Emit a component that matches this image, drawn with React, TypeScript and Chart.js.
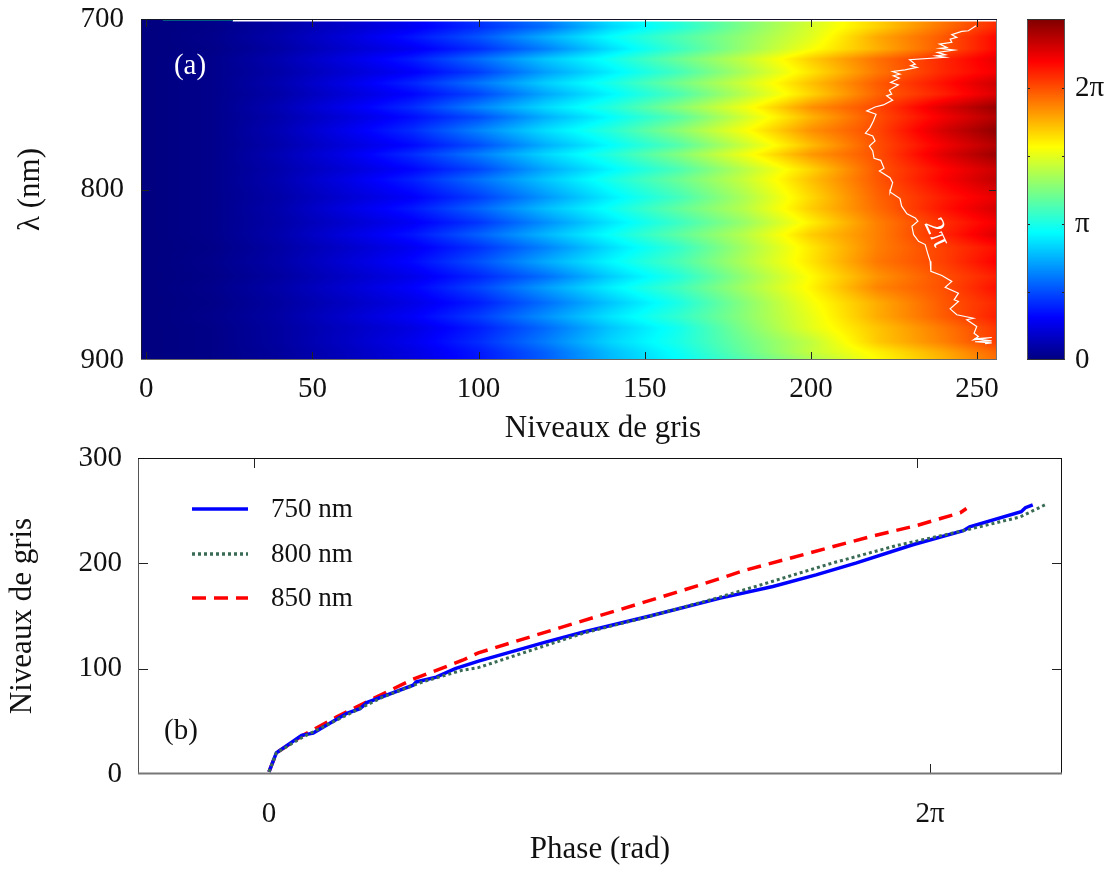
import React, { useEffect, useRef } from "react";
import { Chart, registerables } from "chart.js";

Chart.register(...registerables);

const FONT = '"Liberation Serif"';
const PI = "\u03c0";

// ---------- panel (a) ----------
const greyLevels = [0, 20, 40, 60, 80, 100, 120, 140, 160, 180, 200, 220, 240, 256];
const wavelengths = [
  700, 704.7, 710.6, 717.6, 723.5, 731.2, 737.6, 744.1, 751.8, 757.6, 765.3, 774.1, 779.4, 788.2, 794.1,
  804.7, 811.2, 819.4, 826.5, 834.1, 842.4, 851.2, 857.6, 866.5, 874.7, 881.2, 889.4, 895.3, 900,
];
// phase in units of pi: one row per wavelength, one value per grey level
const phaseRows = [
  [0, 0.03, 0.1, 0.2, 0.3, 0.44, 0.62, 0.88, 1.05, 1.25, 1.45, 1.68, 1.9, 2.08],
  [0, 0.02, 0.09, 0.18, 0.28, 0.42, 0.58, 0.84, 1.02, 1.25, 1.47, 1.68, 1.92, 2.1],
  [0, 0.03, 0.11, 0.22, 0.36, 0.52, 0.74, 0.95, 1.13, 1.3, 1.49, 1.78, 1.98, 2.18],
  [0, 0.02, 0.09, 0.19, 0.28, 0.42, 0.62, 0.86, 1.08, 1.31, 1.55, 1.76, 1.98, 2.18],
  [0, 0.03, 0.12, 0.24, 0.38, 0.58, 0.8, 0.98, 1.2, 1.42, 1.69, 1.92, 2.1, 2.25],
  [0, 0.03, 0.1, 0.2, 0.3, 0.46, 0.7, 0.9, 1.1, 1.36, 1.63, 1.9, 2.1, 2.22],
  [0, 0.03, 0.12, 0.25, 0.4, 0.6, 0.82, 1.0, 1.22, 1.45, 1.72, 1.97, 2.16, 2.32],
  [0, 0.03, 0.1, 0.21, 0.32, 0.48, 0.72, 0.92, 1.12, 1.39, 1.67, 1.95, 2.12, 2.28],
  [0, 0.03, 0.13, 0.27, 0.42, 0.64, 0.85, 1.03, 1.27, 1.53, 1.84, 2.02, 2.28, 2.45],
  [0, 0.03, 0.11, 0.22, 0.34, 0.5, 0.74, 0.94, 1.15, 1.45, 1.75, 2.0, 2.22, 2.38],
  [0, 0.03, 0.13, 0.27, 0.42, 0.64, 0.86, 1.04, 1.28, 1.55, 1.84, 2.02, 2.3, 2.47],
  [0, 0.03, 0.11, 0.22, 0.33, 0.5, 0.74, 0.94, 1.14, 1.43, 1.73, 2.0, 2.22, 2.38],
  [0, 0.03, 0.13, 0.26, 0.42, 0.62, 0.84, 1.03, 1.26, 1.53, 1.82, 2.0, 2.27, 2.44],
  [0, 0.03, 0.11, 0.21, 0.32, 0.48, 0.72, 0.92, 1.12, 1.39, 1.67, 1.98, 2.18, 2.32],
  [0, 0.03, 0.12, 0.25, 0.39, 0.59, 0.8, 1.0, 1.2, 1.43, 1.72, 1.98, 2.2, 2.35],
  [0, 0.03, 0.1, 0.2, 0.3, 0.46, 0.68, 0.9, 1.1, 1.36, 1.66, 1.95, 2.13, 2.25],
  [0, 0.03, 0.11, 0.24, 0.37, 0.56, 0.78, 0.97, 1.18, 1.39, 1.69, 1.93, 2.15, 2.3],
  [0, 0.03, 0.1, 0.19, 0.29, 0.44, 0.66, 0.88, 1.08, 1.31, 1.6, 1.88, 2.08, 2.22],
  [0, 0.03, 0.11, 0.23, 0.36, 0.55, 0.76, 0.96, 1.17, 1.39, 1.69, 1.88, 2.1, 2.28],
  [0, 0.02, 0.09, 0.18, 0.28, 0.43, 0.63, 0.86, 1.06, 1.34, 1.62, 1.88, 2.04, 2.16],
  [0, 0.03, 0.1, 0.21, 0.33, 0.51, 0.73, 0.93, 1.12, 1.37, 1.63, 1.9, 2.04, 2.2],
  [0, 0.02, 0.08, 0.17, 0.26, 0.4, 0.58, 0.82, 1.02, 1.3, 1.57, 1.83, 2.0, 2.12],
  [0, 0.03, 0.1, 0.2, 0.31, 0.48, 0.7, 0.91, 1.1, 1.34, 1.59, 1.87, 2.0, 2.16],
  [0, 0.02, 0.08, 0.16, 0.25, 0.38, 0.58, 0.8, 1.0, 1.27, 1.54, 1.77, 1.98, 2.1],
  [0, 0.03, 0.09, 0.19, 0.3, 0.46, 0.67, 0.88, 1.06, 1.28, 1.51, 1.77, 1.97, 2.12],
  [0, 0.02, 0.08, 0.16, 0.24, 0.38, 0.57, 0.8, 0.98, 1.25, 1.5, 1.71, 1.9, 2.06],
  [0, 0.02, 0.08, 0.17, 0.27, 0.42, 0.62, 0.84, 1.0, 1.21, 1.41, 1.7, 1.88, 2.05],
  [0, 0.02, 0.07, 0.15, 0.24, 0.37, 0.55, 0.78, 0.96, 1.19, 1.42, 1.6, 1.78, 1.95],
  [0, 0.02, 0.07, 0.15, 0.24, 0.36, 0.54, 0.77, 0.94, 1.14, 1.35, 1.57, 1.75, 1.92],
];
const contourGrey = [
  249.7, 247.4, 245.4, 242.4, 243.9, 241.9, 242.4, 238.7, 240.9, 238.9, 243.1, 238.1, 240.4, 237.7, 240.4, 229.7,
  231.4, 230.1, 231.9, 228.3, 224.6, 226.8, 224.8, 226.6, 224.0, 226.3, 223.6, 224.3, 222.8, 224.6, 221.8, 219.3,
  216.8, 219.6, 218.8, 217.8, 216.4, 218.6, 219.3, 217.6, 218.6, 219.0, 221.0, 222.0, 220.6, 223.8, 224.6, 224.0,
  223.8, 226.8, 227.3, 228.9, 231.4, 232.2, 230.4, 230.9, 232.4, 234.4, 235.1, 235.9, 236.1, 239.4, 242.4, 240.4,
  244.4, 243.1, 244.4, 241.9, 243.9, 248.9, 246.9, 249.9, 249.1, 250.4, 248.9, 254.4, 249.1, 254.4, 249.4, 254.4, 252.4,
];
const contourLambda = [
  703.9, 706.9, 707.3, 709.2, 710.8, 711.8, 713.7, 714.7, 716.7, 717.2, 718.2, 719.6, 721.0, 721.6, 722.5, 723.9,
  726.5, 727.4, 728.4, 729.8, 730.8, 732.3, 733.3, 734.7, 737.2, 738.6, 741.7, 744.1, 745.0, 747.6, 750.4, 751.6,
  753.9, 755.9, 759.8, 763.7, 767.0, 768.6, 771.5, 774.5, 777.4, 781.7, 782.9, 787.6, 789.2, 793.1, 796.0, 800.0,
  801.4, 805.3, 809.8, 814.3, 816.7, 818.6, 821.6, 826.5, 830.4, 832.3, 837.2, 842.1, 848.0, 850.4, 853.9, 857.4,
  860.8, 864.7, 865.7, 870.0, 873.5, 875.5, 876.4, 880.4, 884.3, 886.2, 888.2, 886.8, 887.6, 888.8, 889.3, 890.0, 890.4,
];
const greyTicks = [0, 50, 100, 150, 200, 250];
const lambdaTicks = [700, 800, 900];
const colorTicks = [0, 0.5, 1, 1.5, 2];
const colorLabels: Record<string, string> = { "0": "0", "1": PI, "2": "2" + PI };
const colorMax = 2.507;

// ---------- panel (b) ----------
const phase750 = [0, 0.07, 0.31, 0.42, 0.74, 0.865, 0.93, 1.37, 1.4, 1.59, 1.77, 2.0, 2.62, 3.0, 3.62, 4.29, 4.79, 5.2, 5.585, 6.12, 6.6, 6.66, 7.15, 7.19, 7.26];
const grey750 = [2, 20, 36.7, 38.8, 57.6, 62, 67.8, 84.3, 87.4, 92, 100, 107.4, 125, 135, 150, 167, 178, 189, 200.4, 217.6, 231, 234.6, 249, 252.8, 255.6];
const phase800 = [0, 0.07, 0.32, 0.7, 1.08, 1.46, 1.84, 1.99, 2.6, 3.0, 3.63, 4.22, 4.79, 5.36, 5.97, 6.57, 7.14, 7.38];
const grey800 = [2, 20, 35, 54, 73, 87.4, 98.6, 101, 121, 134, 150, 166, 183, 200.4, 217, 230.3, 244, 255.7];
const phase850 = [0, 0.07, 0.31, 0.64, 0.83, 1.02, 1.37, 1.84, 1.99, 2.77, 3.53, 4.1, 4.51, 4.92, 5.33, 5.74, 6.16, 6.57, 6.63];
const grey850 = [2, 20, 36, 54, 63.6, 73, 90, 108, 115, 139, 162, 179.5, 193, 204, 215, 226, 236, 248, 252];
const phaseTicks = [0, 2 * Math.PI];
const phaseTopTicks = [-0.147, 6.16];
const phaseTickLabels = ["0", "2" + PI];
const greyAxisTicks = [0, 100, 200, 300];
const seriesNames = ["750 nm", "800 nm", "850 nm"];
const seriesColors = ["#0000ff", "#3a6b55", "#ff0000"];
const seriesDash = [[], [3, 3], [14, 8]];

const clamp = (v: number) => Math.max(0, Math.min(1, v));
const jet = (f: number) => [
  Math.round(255 * clamp(1.5 - Math.abs(4 * f - 3))),
  Math.round(255 * clamp(1.5 - Math.abs(4 * f - 2))),
  Math.round(255 * clamp(1.5 - Math.abs(4 * f - 1))),
];

function bracket(list: number[], v: number): [number, number] {
  if (v <= list[0]) return [0, 0];
  for (let i = 1; i < list.length; i++) {
    if (v <= list[i]) return [i - 1, (v - list[i - 1]) / (list[i] - list[i - 1])];
  }
  return [list.length - 2, 1];
}

function shadedValue(g: number, l: number) {
  const [c, cf] = bracket(greyLevels, g);
  const [r, rf] = bracket(wavelengths, l);
  const r2 = Math.min(r + 1, wavelengths.length - 1);
  const c2 = Math.min(c + 1, greyLevels.length - 1);
  const a = phaseRows[r][c] * (1 - cf) + phaseRows[r][c2] * cf;
  const b = phaseRows[r2][c] * (1 - cf) + phaseRows[r2][c2] * cf;
  return a * (1 - rf) + b * rf;
}

const heatPlugin = {
  id: "heat",
  beforeDatasetsDraw(chart: any) {
    const { ctx, chartArea: a, scales } = chart;
    const w = Math.round(a.right - a.left);
    const h = Math.round(a.bottom - a.top);
    const off = document.createElement("canvas");
    off.width = w;
    off.height = h;
    const octx = off.getContext("2d") as CanvasRenderingContext2D;
    const img = octx.createImageData(w, h);
    for (let y = 0; y < h; y++) {
      const l = scales.y.getValueForPixel(a.top + y + 0.5);
      for (let x = 0; x < w; x++) {
        const g = scales.x.getValueForPixel(a.left + x + 0.5);
        const rgb = jet(shadedValue(g, l) / colorMax);
        const i = (y * w + x) * 4;
        img.data[i] = rgb[0];
        img.data[i + 1] = rgb[1];
        img.data[i + 2] = rgb[2];
        img.data[i + 3] = 255;
      }
    }
    octx.putImageData(img, 0, 0);
    ctx.drawImage(off, a.left, a.top);
    // the measurement's first row: empty above grey level 26
    const x0 = scales.x.getPixelForValue(26);
    ctx.fillStyle = "#ffffff";
    ctx.fillRect(x0, a.top + 1, a.right - x0, 1.5);
    ctx.fillStyle = "rgb(0,90,130)";
    ctx.fillRect(scales.x.getPixelForValue(5), a.top + 1, x0 - scales.x.getPixelForValue(5), 1);
  },
};

const colorbarPlugin = {
  id: "colorbar",
  beforeDatasetsDraw(chart: any) {
    const { ctx, chartArea: a, scales } = chart;
    for (let y = Math.floor(a.top); y < a.bottom; y++) {
      const v = scales.y.getValueForPixel(y + 0.5);
      const rgb = jet(v / colorMax);
      ctx.fillStyle = `rgb(${rgb[0]},${rgb[1]},${rgb[2]})`;
      ctx.fillRect(a.left, y, a.right - a.left, 1);
    }
  },
};

function framePlugin(opts: {
  xTicks?: number[];
  xTopTicks?: number[];
  yTicks: number[];
  len: number;
  colors: { top: string; right: string; bottom: string; left: string };
  bottomWidth: number;
}) {
  return {
    id: "frame",
    afterDatasetsDraw(chart: any) {
      const { ctx, chartArea: a, scales } = chart;
      ctx.save();
      ctx.lineWidth = 1;
      ctx.strokeStyle = "#222222";
      const line = (x1: number, y1: number, x2: number, y2: number) => {
        ctx.beginPath();
        ctx.moveTo(x1, y1);
        ctx.lineTo(x2, y2);
        ctx.stroke();
      };
      (opts.xTicks || []).forEach((t) => {
        const x = Math.round(scales.x.getPixelForValue(t)) + 0.5;
        line(x, a.bottom, x, a.bottom - opts.len);
      });
      (opts.xTopTicks || opts.xTicks || []).forEach((t) => {
        const x = Math.round(scales.x.getPixelForValue(t)) + 0.5;
        line(x, a.top, x, a.top + opts.len);
      });
      opts.yTicks.forEach((t) => {
        const y = Math.round(scales.y.getPixelForValue(t)) + 0.5;
        line(a.left, y, a.left + opts.len, y);
        line(a.right, y, a.right - opts.len, y);
      });
      const L = a.left + 0.5;
      const R = a.right - 0.5;
      const T = a.top + 0.5;
      const B = a.bottom - 0.5;
      ctx.strokeStyle = opts.colors.left;
      line(L, T, L, B);
      ctx.strokeStyle = opts.colors.right;
      line(R, T, R, B);
      ctx.strokeStyle = opts.colors.top;
      line(L - 0.5, T, R + 0.5, T);
      ctx.strokeStyle = opts.colors.bottom;
      ctx.lineWidth = opts.bottomWidth;
      line(L - 0.5, B, R + 0.5, B);
      ctx.restore();
    },
  };
}

const textPlugin = (items: { text: string; x: number; y: number; size: number; color: string; rot?: number; dataCoords?: boolean }[]) => ({
  id: "freeText",
  afterDatasetsDraw(chart: any) {
    const { ctx, scales } = chart;
    items.forEach((t) => {
      ctx.save();
      const px = t.dataCoords ? scales.x.getPixelForValue(t.x) : t.x;
      const py = t.dataCoords ? scales.y.getPixelForValue(t.y) : t.y;
      ctx.translate(px, py);
      if (t.rot) ctx.rotate(t.rot);
      ctx.font = `${t.size}px ${FONT}`;
      ctx.fillStyle = t.color;
      ctx.textAlign = "center";
      ctx.textBaseline = "middle";
      ctx.fillText(t.text, 0, 0);
      ctx.restore();
    });
  },
});

const legendPlugin = {
  id: "lineLegend",
  afterDatasetsDraw(chart: any) {
    const { ctx } = chart;
    const rows = [64, 109, 153];
    seriesNames.forEach((name, i) => {
      ctx.save();
      ctx.strokeStyle = seriesColors[i];
      ctx.lineWidth = 3.5;
      ctx.setLineDash(seriesDash[i]);
      ctx.beginPath();
      ctx.moveTo(192, rows[i]);
      ctx.lineTo(248, rows[i]);
      ctx.stroke();
      ctx.setLineDash([]);
      ctx.font = `27px ${FONT}`;
      ctx.fillStyle = "#111111";
      ctx.textAlign = "left";
      ctx.textBaseline = "middle";
      ctx.fillText(name, 271, rows[i] + 1);
      ctx.restore();
    });
  },
};

const fixTicks = (values: number[]) => (s: any) => {
  s.ticks = values.map((value) => ({ value }));
};
// pins the axis box and removes the room Chart.js reserves for half a tick label
const pinX = (height: number) => (s: any) => {
  s.height = height;
  s.paddingLeft = s.paddingRight = s.paddingTop = s.paddingBottom = 0;
};
const pinY = (width: number) => (s: any) => {
  s.width = width;
  s.paddingLeft = s.paddingRight = s.paddingTop = s.paddingBottom = 0;
};
const tickFont = { family: FONT, size: 29 };
const titleFont = { family: FONT, size: 31 };
const quiet = { legend: { display: false }, tooltip: { enabled: false } };

export default function App() {
  const topRef = useRef<HTMLCanvasElement>(null);
  const barRef = useRef<HTMLCanvasElement>(null);
  const botRef = useRef<HTMLCanvasElement>(null);

  useEffect(() => {
    const cells: { x: number; y: number; v: number }[] = [];
    wavelengths.forEach((l, r) => greyLevels.forEach((g, c) => cells.push({ x: g, y: l, v: phaseRows[r][c] })));

    const top = new Chart(topRef.current as HTMLCanvasElement, {
      type: "scatter",
      data: {
        datasets: [
          { label: "phase", data: cells as any, pointRadius: 0 },
          {
            label: "2" + PI,
            data: contourGrey.map((x, i) => ({ x, y: contourLambda[i] })),
            showLine: true,
            borderColor: "#ffffff",
            borderWidth: 1.2,
            pointRadius: 0,
          },
        ],
      },
      options: {
        responsive: false,
        animation: false,
        devicePixelRatio: 1,
        layout: { autoPadding: false, padding: { left: 0, right: 23, top: 19, bottom: 0 } },
        plugins: quiet as any,
        scales: {
          x: {
            type: "linear",
            min: -1.6,
            max: 256,
            grid: { display: false, drawTicks: false },
            border: { display: false },
            afterBuildTicks: fixTicks(greyTicks),
            afterFit: pinX(85),
            ticks: { font: tickFont, color: "#111111", padding: 12, maxRotation: 0, autoSkip: false },
          },
          y: {
            type: "linear",
            min: 700,
            max: 900,
            reverse: true,
            grid: { display: false, drawTicks: false },
            border: { display: false },
            afterBuildTicks: fixTicks(lambdaTicks),
            afterFit: pinY(141),
            ticks: { font: tickFont, color: "#111111", padding: 17, autoSkip: false },
            title: { display: true, text: "\u03bb (nm)", font: titleFont, color: "#111111", padding: { top: 12, bottom: 0 } },
          },
        },
      } as any,
      plugins: [
        heatPlugin,
        framePlugin({
          xTicks: greyTicks,
          yTicks: [800],
          len: 8,
          colors: { top: "#15152a", right: "#777777", bottom: "#666666", left: "#15153a" },
          bottomWidth: 1,
        }),
        textPlugin([
          { text: "Niveaux de gris", x: 603, y: 429, size: 31, color: "#111111" },
          { text: "(a)", x: 190, y: 66, size: 29, color: "#ffffff" },
          { text: "2" + PI, x: 237.8, y: 825.5, size: 28, color: "#ffffff", rot: (65 * Math.PI) / 180, dataCoords: true },
        ]) as any,
      ],
    });

    const bar = new Chart(barRef.current as HTMLCanvasElement, {
      type: "scatter",
      data: { datasets: [{ label: "phase", data: colorTicks.map((y) => ({ x: 0, y })), pointRadius: 0 }] },
      options: {
        responsive: false,
        animation: false,
        devicePixelRatio: 1,
        layout: { autoPadding: false, padding: { left: 27, right: 0, top: 19, bottom: 40 } },
        plugins: quiet as any,
        scales: {
          x: { type: "linear", display: false, min: 0, max: 1 },
          y: {
            type: "linear",
            position: "right",
            min: 0,
            max: colorMax,
            grid: { display: false, drawTicks: false },
            border: { display: false },
            afterBuildTicks: fixTicks(colorTicks),
            afterFit: pinY(49),
            ticks: {
              font: tickFont,
              color: "#111111",
              padding: 10,
              autoSkip: false,
              callback: (v: number) => colorLabels[String(v)] ?? "",
            },
          },
        },
      } as any,
      plugins: [
        colorbarPlugin,
        framePlugin({
          yTicks: colorTicks.slice(1),
          len: 3,
          colors: { top: "#333333", right: "#555555", bottom: "#333333", left: "#555555" },
          bottomWidth: 1,
        }),
      ],
    });

    const bot = new Chart(botRef.current as HTMLCanvasElement, {
      type: "scatter",
      data: {
        datasets: [
          { xs: phase800, ys: grey800, i: 1 },
          { xs: phase750, ys: grey750, i: 0 },
          { xs: phase850, ys: grey850, i: 2 },
        ].map(({ xs, ys, i }) => ({
          label: seriesNames[i],
          data: xs.map((x, k) => ({ x, y: ys[k] })),
          showLine: true,
          borderColor: seriesColors[i],
          borderWidth: i === 1 ? 3 : 3.5,
          borderDash: seriesDash[i],
          pointRadius: 0,
        })),
      },
      options: {
        responsive: false,
        animation: false,
        devicePixelRatio: 1,
        layout: { autoPadding: false, padding: { left: 0, right: 52, top: 13, bottom: 0 } },
        plugins: quiet as any,
        scales: {
          x: {
            type: "linear",
            min: -1.245,
            max: 7.538,
            grid: { display: false, drawTicks: false },
            border: { display: false },
            afterBuildTicks: fixTicks(phaseTicks),
            afterFit: pinX(96),
            ticks: {
              font: tickFont,
              color: "#111111",
              padding: 23,
              maxRotation: 0,
              autoSkip: false,
              callback: (_v: number, i: number) => phaseTickLabels[i],
            },
            title: { display: true, text: "Phase (rad)", font: titleFont, color: "#111111", padding: { top: 0, bottom: 2 } },
          },
          y: {
            type: "linear",
            min: 0,
            max: 300,
            grid: { display: false, drawTicks: false },
            border: { display: false },
            afterBuildTicks: fixTicks(greyAxisTicks),
            afterFit: pinY(138),
            ticks: { font: tickFont, color: "#111111", padding: 16, autoSkip: false },
            title: { display: true, text: "Niveaux de gris", font: titleFont, color: "#111111", padding: { top: 4, bottom: 0 } },
          },
        },
      } as any,
      plugins: [
        framePlugin({
          xTicks: [phaseTicks[1]],
          xTopTicks: phaseTopTicks,
          yTicks: [100, 200],
          len: 10,
          colors: { top: "#111111", right: "#111111", bottom: "#777777", left: "#555555" },
          bottomWidth: 2,
        }),
        legendPlugin,
        textPlugin([{ text: "(b)", x: 181, y: 286, size: 29, color: "#111111" }]) as any,
      ],
    });

    return () => {
      top.destroy();
      bar.destroy();
      bot.destroy();
    };
  }, []);

  const abs = (left: number, top: number): React.CSSProperties => ({ position: "absolute", left, top, display: "block" });
  return (
    <div style={{ position: "absolute", left: 0, top: 0, width: 1114, height: 870, overflow: "hidden", background: "#fff" }}>
      <canvas ref={topRef} width={1020} height={445} style={abs(0, 0)} />
      <canvas ref={barRef} width={114} height={400} style={abs(1000, 0)} />
      <canvas ref={botRef} width={1114} height={425} style={abs(0, 445)} />
    </div>
  );
}
